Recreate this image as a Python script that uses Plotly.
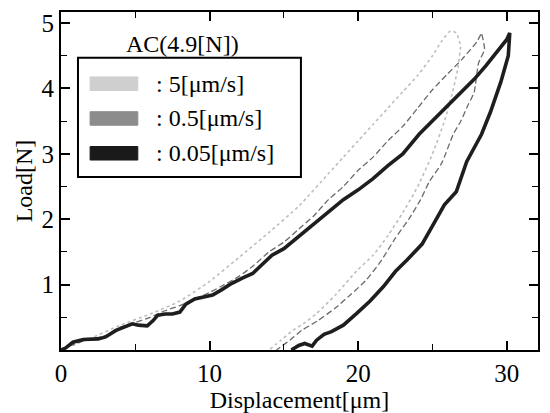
import plotly.graph_objects as go

# ---- data ----
# 0.05 um/s : loading branch
slow_load_x = [0, 0.3, 0.8, 1.5, 2.5, 3.0, 3.7, 4.3, 4.8, 5.2, 5.8, 6.2, 6.5, 7.0, 7.5, 8.0,
               8.4, 9.0, 9.5, 10.2, 10.8, 11.5, 12.2, 12.9, 13.5, 14.2, 15.0, 15.8, 16.5,
               17.2, 18.1, 19.0, 20.0, 21.0, 22.0, 23.0, 24.1, 25.1, 26.0, 27.0, 27.8,
               28.6, 29.3, 30.0, 30.2]
slow_load_y = [0, 0.03, 0.12, 0.16, 0.17, 0.2, 0.3, 0.36, 0.4, 0.38, 0.37, 0.45, 0.53, 0.55,
               0.55, 0.58, 0.7, 0.78, 0.8, 0.84, 0.92, 1.02, 1.1, 1.17, 1.3, 1.45, 1.55, 1.7,
               1.82, 1.95, 2.12, 2.3, 2.45, 2.62, 2.82, 3.0, 3.3, 3.53, 3.72, 3.95, 4.14,
               4.35, 4.55, 4.75, 4.85]
# 0.05 um/s : unloading branch
slow_unload_x = [30.2, 30.1, 29.6, 28.9, 28.3, 27.3, 26.6, 25.8, 25.0, 24.3, 23.3, 22.5,
                 21.7, 20.8, 19.9, 19.0, 18.2, 17.7, 17.2, 16.9, 16.4, 16.0, 15.5]
slow_unload_y = [4.85, 4.5, 4.1, 3.64, 3.3, 2.88, 2.42, 2.22, 1.9, 1.62, 1.38, 1.2, 0.97,
                 0.75, 0.56, 0.38, 0.28, 0.24, 0.15, 0.06, 0.1, 0.07, 0.0]

# 0.5 um/s
mid_load_x = [0, 1, 2, 3, 4, 5, 6, 7, 8, 9, 10, 11, 12, 13, 14, 15, 16, 17, 18, 19, 20,
              21, 22, 23, 24, 25, 26, 27, 28, 28.3]
mid_load_y = [0, 0.1, 0.17, 0.22, 0.35, 0.42, 0.5, 0.6, 0.68, 0.78, 0.88, 1.0, 1.13, 1.3,
              1.5, 1.65, 1.85, 2.05, 2.3, 2.5, 2.75, 2.95, 3.2, 3.42, 3.7, 3.98, 4.22,
              4.45, 4.72, 4.85]
mid_unload_x = [28.3, 28.5, 28.1, 27.8, 27.4, 26.9, 26.4, 25.6, 24.8, 24.2, 23.4, 22.5,
                21.5, 20.5, 19.5, 18.5, 17.3, 16.2, 15.4, 14.8, 14.5]
mid_unload_y = [4.85, 4.6, 4.39, 3.94, 3.75, 3.5, 3.3, 2.85, 2.58, 2.3, 2.0, 1.71, 1.35,
                1.06, 0.85, 0.65, 0.45, 0.3, 0.15, 0.05, 0.0]

# 5 um/s
fast_load_x = [0, 2, 4, 6, 8, 10, 12, 14, 16, 18, 19, 20, 21, 22, 23, 24, 25, 25.6, 26.2,
               26.6, 26.9]
fast_load_y = [0, 0.18, 0.38, 0.55, 0.75, 1.05, 1.42, 1.8, 2.2, 2.7, 2.95, 3.2, 3.45, 3.7,
               3.95, 4.2, 4.5, 4.72, 4.88, 4.85, 4.65]
fast_unload_x = [26.9, 26.7, 26.3, 25.8, 25.0, 24.0, 23.0, 22.0, 21.0, 19.9, 18.5, 17.2,
                 16.3, 15.6, 14.8, 14.0]
fast_unload_y = [4.65, 4.3, 3.9, 3.5, 3.0, 2.5, 2.1, 1.75, 1.45, 1.21, 0.85, 0.56, 0.4,
                 0.3, 0.15, 0.0]

x_ticks = [0, 10, 20, 30]
y_ticks = [1, 2, 3, 4, 5]
legend_title = "AC(4.9[N])"
legend_labels = [": 5[μm/s]", ": 0.5[μm/s]", ": 0.05[μm/s]"]
legend_colors = ["#cfcfcf", "#8c8c8c", "#1a1a1a"]

FONT = "Liberation Serif"

fig = go.Figure()
fig.add_trace(go.Scatter(x=fast_load_x + fast_unload_x, y=fast_load_y + fast_unload_y,
                         mode="lines",
                         line=dict(color="#bdbdbd", width=1.6, dash="dot", shape="spline",
                                   smoothing=0.6),
                         name=legend_labels[0], showlegend=False))
fig.add_trace(go.Scatter(x=mid_load_x + mid_unload_x, y=mid_load_y + mid_unload_y,
                         mode="lines",
                         line=dict(color="#6a6a6a", width=1.3, dash="6px,3px", shape="spline",
                                   smoothing=0.6),
                         name=legend_labels[1], showlegend=False))
fig.add_trace(go.Scatter(x=slow_load_x + slow_unload_x, y=slow_load_y + slow_unload_y,
                         mode="lines", line=dict(color="#1e1e1e", width=3.6),
                         name=legend_labels[2], showlegend=False))

# manual legend (paper coordinates)
fig.add_shape(type="rect", xref="paper", yref="paper", x0=0.0356, x1=0.503, y0=0.512, y1=0.865,
              line=dict(color="black", width=2), fillcolor="white", layer="above")
fig.add_annotation(xref="paper", yref="paper", x=0.254, y=0.906, text=legend_title,
                   showarrow=False, font=dict(family=FONT, size=24, color="black"),
                   xanchor="center", yanchor="middle")
row_y = [0.788, 0.685, 0.582]
for lab, col, yy in zip(legend_labels, legend_colors, row_y):
    fig.add_shape(type="rect", xref="paper", yref="paper", x0=0.061, x1=0.161,
                  y0=yy - 0.02, y1=yy + 0.02, line=dict(color=col, width=1),
                  fillcolor=col, layer="above")
    fig.add_annotation(xref="paper", yref="paper", x=0.195, y=yy, text=lab,
                       showarrow=False, font=dict(family=FONT, size=24, color="black"),
                       xanchor="left", yanchor="middle")

axis_common = dict(showline=True, linecolor="black", linewidth=2, mirror="allticks",
                   ticks="inside", ticklen=9, tickwidth=1.5, tickcolor="black",
                   showgrid=False, zeroline=False,
                   tickfont=dict(family=FONT, size=25, color="black"))
fig.update_xaxes(range=[0, 32.1], tickvals=x_ticks,
                 minor=dict(dtick=5, tick0=0, ticks="inside", ticklen=6, tickwidth=1.2,
                            tickcolor="black", showgrid=False),
                 title=dict(text="Displacement[μm]", font=dict(family=FONT, size=24, color="black"),
                            standoff=0),
                 **axis_common)
fig.update_yaxes(range=[0, 5.17], tickvals=y_ticks,
                 minor=dict(dtick=0.5, tick0=0, ticks="inside", ticklen=6, tickwidth=1.2,
                            tickcolor="black", showgrid=False),
                 title=dict(text="Load[N]", font=dict(family=FONT, size=24, color="black"),
                            standoff=2),
                 **axis_common)
# page body has an 8px default margin: figure is sized so the plot area lands
# where the reference has it (x 61..538, y 10..350 in the 550x413 window)
fig.update_layout(width=542, height=405, autosize=False,
                  margin=dict(l=53, r=12, t=2, b=63),
                  plot_bgcolor="white", paper_bgcolor="white", showlegend=False)

fig.write_html("out.html")
